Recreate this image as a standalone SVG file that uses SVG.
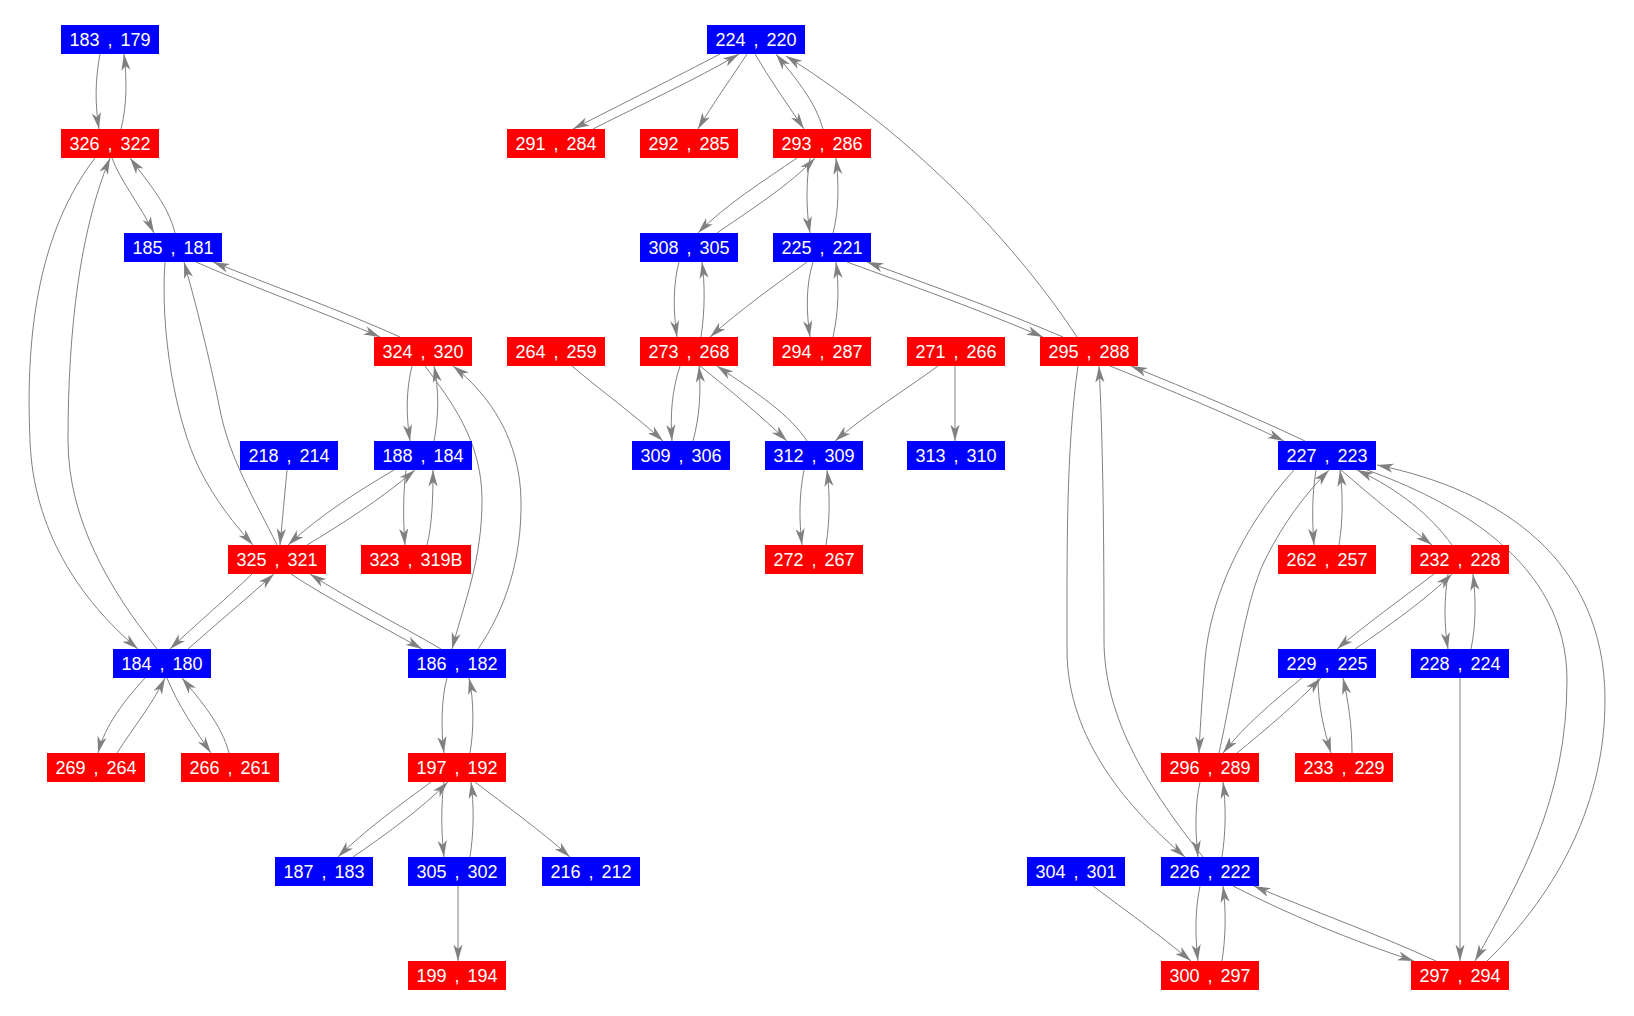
<svg xmlns="http://www.w3.org/2000/svg" width="1634" height="1016" viewBox="0 0 1634 1016">
<style>
.b{fill:#0000FF}
.r{fill:#FF0000}
.t{fill:#FFFFFF;font-family:"Liberation Sans",Arial,sans-serif;font-size:18px;word-spacing:3px;text-anchor:middle}
.e{fill:none;stroke:#808080;stroke-width:1;marker-end:url(#ah)}
</style>
<defs>
<marker id="ah" viewBox="0 -5 17 10" refX="16.5" refY="0" markerWidth="17" markerHeight="10" markerUnits="userSpaceOnUse" orient="auto">
<path d="M0,-4.6 L16.5,0 L0,4.6 L4.5,0 z" fill="#808080"/>
</marker>
</defs>
<rect width="1634" height="1016" fill="#FFFFFF"/>
<g id="connectors">
<path class="e" d="M100,54 C95,80 95,105 99,129"/>
<path class="e" d="M121,129 C127,105 127,80 124,54"/>
<path class="e" d="M112,158 C120,180 140,205 154,233"/>
<path class="e" d="M175,233 C168,205 150,185 130,158"/>
<path class="e" d="M95,158 C40,230 25,330 30,440 C33,530 80,600 138,649"/>
<path class="e" d="M157,649 C110,590 68,520 68,440 C68,330 80,230 110,158"/>
<path class="e" d="M165,262 C160,330 175,420 200,470 C215,500 235,525 253,545"/>
<path class="e" d="M277,545 C255,500 230,460 220,410 C210,360 195,300 184,262"/>
<path class="e" d="M196,262 C260,290 330,315 380,337"/>
<path class="e" d="M400,337 C340,310 270,285 213,262"/>
<path class="e" d="M412,366 C406,390 406,415 410,441"/>
<path class="e" d="M434,441 C439,415 439,390 434,366"/>
<path class="e" d="M425,366 C450,400 482,440 482,500 C482,560 465,600 452,649"/>
<path class="e" d="M478,649 C505,610 522,560 521,500 C520,440 490,395 453,366"/>
<path class="e" d="M287,470 C285,495 282,520 280,545"/>
<path class="e" d="M394,470 C360,490 320,515 288,545"/>
<path class="e" d="M307,545 C340,525 380,500 415,470"/>
<path class="e" d="M406,470 C403,495 403,520 405,545"/>
<path class="e" d="M427,545 C432,525 433,500 433,470"/>
<path class="e" d="M252,574 C225,600 195,625 170,649"/>
<path class="e" d="M188,649 C215,625 245,600 274,574"/>
<path class="e" d="M291,574 C330,600 380,625 422,649"/>
<path class="e" d="M441,649 C400,625 350,600 310,574"/>
<path class="e" d="M145,678 C125,700 105,725 98,753"/>
<path class="e" d="M117,753 C135,725 152,705 165,678"/>
<path class="e" d="M167,678 C178,705 195,730 211,753"/>
<path class="e" d="M229,753 C222,725 200,700 182,678"/>
<path class="e" d="M447,678 C441,700 441,730 444,753"/>
<path class="e" d="M470,753 C474,730 474,700 469,678"/>
<path class="e" d="M431,782 C400,805 365,830 338,857"/>
<path class="e" d="M353,857 C385,835 420,810 448,782"/>
<path class="e" d="M444,782 C441,805 441,830 444,857"/>
<path class="e" d="M470,857 C474,830 474,805 471,782"/>
<path class="e" d="M475,782 C505,805 540,830 570,857"/>
<path class="e" d="M458,886 L458,961"/>
<path class="e" d="M720,54 C680,75 620,105 573,129"/>
<path class="e" d="M593,129 C640,105 695,80 739,54"/>
<path class="e" d="M747,54 C730,80 712,105 698,129"/>
<path class="e" d="M755,54 C770,80 788,105 804,129"/>
<path class="e" d="M823,129 C815,100 795,78 776,54"/>
<path class="e" d="M1077,337 C1020,250 920,140 786,56"/>
<path class="e" d="M797,158 C765,180 725,205 698,233"/>
<path class="e" d="M717,233 C750,210 790,185 815,158"/>
<path class="e" d="M810,158 C806,180 806,210 810,233"/>
<path class="e" d="M833,233 C839,210 839,185 836,158"/>
<path class="e" d="M679,262 C673,285 673,310 677,337"/>
<path class="e" d="M701,337 C705,310 705,285 702,262"/>
<path class="e" d="M807,262 C775,285 740,310 710,337"/>
<path class="e" d="M813,262 C806,285 806,310 810,337"/>
<path class="e" d="M833,337 C839,310 839,285 836,262"/>
<path class="e" d="M847,262 C910,285 980,310 1043,337"/>
<path class="e" d="M1063,337 C1000,310 930,285 867,262"/>
<path class="e" d="M572,366 C600,390 635,415 663,441"/>
<path class="e" d="M680,366 C672,390 670,415 672,441"/>
<path class="e" d="M693,441 C700,415 701,390 699,366"/>
<path class="e" d="M700,366 C730,390 760,415 787,441"/>
<path class="e" d="M807,441 C790,415 760,395 717,366"/>
<path class="e" d="M938,366 C905,390 865,415 835,441"/>
<path class="e" d="M955,366 L955,441"/>
<path class="e" d="M804,470 C799,495 799,520 802,545"/>
<path class="e" d="M826,545 C830,520 830,495 827,470"/>
<path class="e" d="M1110,366 C1170,390 1230,415 1284,441"/>
<path class="e" d="M1305,441 C1250,415 1190,390 1131,366"/>
<path class="e" d="M1078,366 C1066,450 1067,550 1067,650 C1067,740 1130,810 1185,857"/>
<path class="e" d="M1203,857 C1150,790 1104,720 1104,640 C1104,540 1103,440 1099,366"/>
<path class="e" d="M1316,470 C1312,495 1312,520 1314,545"/>
<path class="e" d="M1339,545 C1343,520 1343,495 1340,470"/>
<path class="e" d="M1341,470 C1370,495 1400,520 1432,545"/>
<path class="e" d="M1452,545 C1430,515 1400,490 1357,470"/>
<path class="e" d="M1294,470 C1240,530 1210,600 1205,660 C1202,700 1200,730 1199,753"/>
<path class="e" d="M1219,753 C1235,680 1245,600 1265,560 C1285,520 1305,495 1329,470"/>
<path class="e" d="M1367,470 C1450,500 1567,560 1567,680 C1567,800 1520,880 1475,961"/>
<path class="e" d="M1487,961 C1560,890 1605,800 1605,700 C1605,560 1500,490 1377,465"/>
<path class="e" d="M1434,574 C1400,600 1365,625 1337,649"/>
<path class="e" d="M1355,649 C1390,625 1425,600 1452,574"/>
<path class="e" d="M1448,574 C1444,600 1444,625 1448,649"/>
<path class="e" d="M1471,649 C1476,625 1476,600 1473,574"/>
<path class="e" d="M1302,678 C1275,700 1245,725 1223,753"/>
<path class="e" d="M1237,753 C1265,730 1295,705 1321,678"/>
<path class="e" d="M1318,678 C1318,705 1324,730 1331,753"/>
<path class="e" d="M1352,753 C1352,725 1348,700 1343,678"/>
<path class="e" d="M1460,678 L1460,961"/>
<path class="e" d="M1200,782 C1195,805 1195,830 1198,857"/>
<path class="e" d="M1222,857 C1226,830 1226,805 1223,782"/>
<path class="e" d="M1093,886 C1125,910 1160,935 1191,961"/>
<path class="e" d="M1200,886 C1195,910 1195,935 1198,961"/>
<path class="e" d="M1222,961 C1226,935 1226,910 1223,886"/>
<path class="e" d="M1233,886 C1290,915 1350,940 1414,961"/>
<path class="e" d="M1436,961 C1380,935 1310,910 1254,886"/>
</g>
<g id="n183_179"><rect class="b" x="61" y="25" width="98" height="29"/><text class="t" x="110" y="46">183 , 179</text></g>
<g id="n224_220"><rect class="b" x="707" y="25" width="98" height="29"/><text class="t" x="756" y="46">224 , 220</text></g>
<g id="n326_322"><rect class="r" x="61" y="129" width="98" height="29"/><text class="t" x="110" y="150">326 , 322</text></g>
<g id="n291_284"><rect class="r" x="507" y="129" width="98" height="29"/><text class="t" x="556" y="150">291 , 284</text></g>
<g id="n292_285"><rect class="r" x="640" y="129" width="98" height="29"/><text class="t" x="689" y="150">292 , 285</text></g>
<g id="n293_286"><rect class="r" x="773" y="129" width="98" height="29"/><text class="t" x="822" y="150">293 , 286</text></g>
<g id="n185_181"><rect class="b" x="124" y="233" width="98" height="29"/><text class="t" x="173" y="254">185 , 181</text></g>
<g id="n308_305"><rect class="b" x="640" y="233" width="98" height="29"/><text class="t" x="689" y="254">308 , 305</text></g>
<g id="n225_221"><rect class="b" x="773" y="233" width="98" height="29"/><text class="t" x="822" y="254">225 , 221</text></g>
<g id="n324_320"><rect class="r" x="374" y="337" width="98" height="29"/><text class="t" x="423" y="358">324 , 320</text></g>
<g id="n264_259"><rect class="r" x="507" y="337" width="98" height="29"/><text class="t" x="556" y="358">264 , 259</text></g>
<g id="n273_268"><rect class="r" x="640" y="337" width="98" height="29"/><text class="t" x="689" y="358">273 , 268</text></g>
<g id="n294_287"><rect class="r" x="773" y="337" width="98" height="29"/><text class="t" x="822" y="358">294 , 287</text></g>
<g id="n271_266"><rect class="r" x="907" y="337" width="98" height="29"/><text class="t" x="956" y="358">271 , 266</text></g>
<g id="n295_288"><rect class="r" x="1040" y="337" width="98" height="29"/><text class="t" x="1089" y="358">295 , 288</text></g>
<g id="n218_214"><rect class="b" x="240" y="441" width="98" height="29"/><text class="t" x="289" y="462">218 , 214</text></g>
<g id="n188_184"><rect class="b" x="374" y="441" width="98" height="29"/><text class="t" x="423" y="462">188 , 184</text></g>
<g id="n309_306"><rect class="b" x="632" y="441" width="98" height="29"/><text class="t" x="681" y="462">309 , 306</text></g>
<g id="n312_309"><rect class="b" x="765" y="441" width="98" height="29"/><text class="t" x="814" y="462">312 , 309</text></g>
<g id="n313_310"><rect class="b" x="907" y="441" width="98" height="29"/><text class="t" x="956" y="462">313 , 310</text></g>
<g id="n227_223"><rect class="b" x="1278" y="441" width="98" height="29"/><text class="t" x="1327" y="462">227 , 223</text></g>
<g id="n325_321"><rect class="r" x="228" y="545" width="98" height="29"/><text class="t" x="277" y="566">325 , 321</text></g>
<g id="n323_319B"><rect class="r" x="361" y="545" width="110" height="29"/><text class="t" x="416" y="566">323 , 319B</text></g>
<g id="n272_267"><rect class="r" x="765" y="545" width="98" height="29"/><text class="t" x="814" y="566">272 , 267</text></g>
<g id="n262_257"><rect class="r" x="1278" y="545" width="98" height="29"/><text class="t" x="1327" y="566">262 , 257</text></g>
<g id="n232_228"><rect class="r" x="1411" y="545" width="98" height="29"/><text class="t" x="1460" y="566">232 , 228</text></g>
<g id="n184_180"><rect class="b" x="113" y="649" width="98" height="29"/><text class="t" x="162" y="670">184 , 180</text></g>
<g id="n186_182"><rect class="b" x="408" y="649" width="98" height="29"/><text class="t" x="457" y="670">186 , 182</text></g>
<g id="n229_225"><rect class="b" x="1278" y="649" width="98" height="29"/><text class="t" x="1327" y="670">229 , 225</text></g>
<g id="n228_224"><rect class="b" x="1411" y="649" width="98" height="29"/><text class="t" x="1460" y="670">228 , 224</text></g>
<g id="n269_264"><rect class="r" x="47" y="753" width="98" height="29"/><text class="t" x="96" y="774">269 , 264</text></g>
<g id="n266_261"><rect class="r" x="181" y="753" width="98" height="29"/><text class="t" x="230" y="774">266 , 261</text></g>
<g id="n197_192"><rect class="r" x="408" y="753" width="98" height="29"/><text class="t" x="457" y="774">197 , 192</text></g>
<g id="n296_289"><rect class="r" x="1161" y="753" width="98" height="29"/><text class="t" x="1210" y="774">296 , 289</text></g>
<g id="n233_229"><rect class="r" x="1295" y="753" width="98" height="29"/><text class="t" x="1344" y="774">233 , 229</text></g>
<g id="n187_183"><rect class="b" x="275" y="857" width="98" height="29"/><text class="t" x="324" y="878">187 , 183</text></g>
<g id="n305_302"><rect class="b" x="408" y="857" width="98" height="29"/><text class="t" x="457" y="878">305 , 302</text></g>
<g id="n216_212"><rect class="b" x="542" y="857" width="98" height="29"/><text class="t" x="591" y="878">216 , 212</text></g>
<g id="n304_301"><rect class="b" x="1027" y="857" width="98" height="29"/><text class="t" x="1076" y="878">304 , 301</text></g>
<g id="n226_222"><rect class="b" x="1161" y="857" width="98" height="29"/><text class="t" x="1210" y="878">226 , 222</text></g>
<g id="n199_194"><rect class="r" x="408" y="961" width="98" height="29"/><text class="t" x="457" y="982">199 , 194</text></g>
<g id="n300_297"><rect class="r" x="1161" y="961" width="98" height="29"/><text class="t" x="1210" y="982">300 , 297</text></g>
<g id="n297_294"><rect class="r" x="1411" y="961" width="98" height="29"/><text class="t" x="1460" y="982">297 , 294</text></g>
</svg>
